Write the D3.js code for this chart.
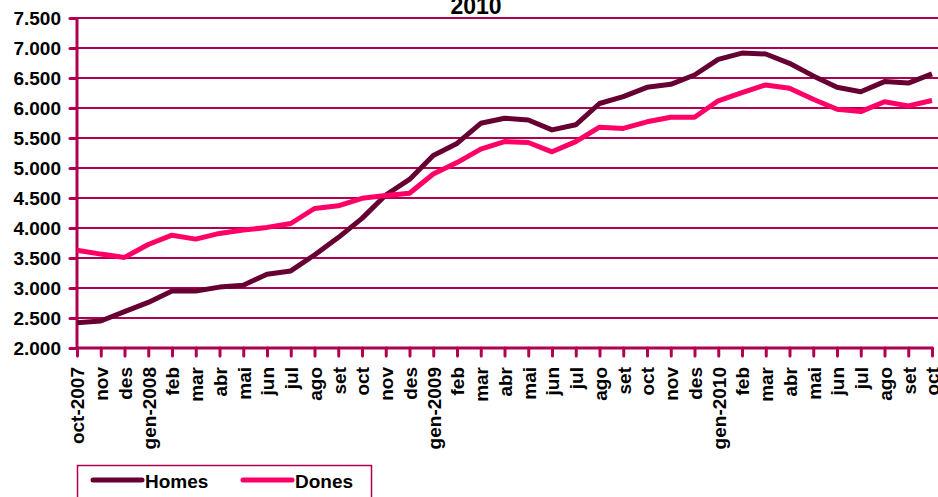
<!DOCTYPE html>
<html>
<head>
<meta charset="utf-8">
<script src="https://cdn.jsdelivr.net/npm/d3@7"></script>
<style>
   body { margin: 0; background: #fff; }
   svg { display: block; font-family: Arial, "Liberation Sans", sans-serif; font-weight: bold; }
</style>
</head>
<body>
<svg class="chart" width="938" height="497"></svg>
<script>
var months = ['oct-2007', 'nov', 'des', 'gen-2008', 'feb', 'mar', 'abr', 'mai', 'jun', 'jul', 'ago', 'set', 'oct', 'nov', 'des',
   'gen-2009', 'feb', 'mar', 'abr', 'mai', 'jun', 'jul', 'ago', 'set', 'oct', 'nov', 'des',
   'gen-2010', 'feb', 'mar', 'abr', 'mai', 'jun', 'jul', 'ago', 'set', 'oct'];

var homes = [2420, 2450, 2605, 2760, 2950, 2950, 3015, 3045, 3230, 3285, 3550, 3840, 4160, 4550, 4810,
   5210, 5410, 5745, 5830, 5800, 5635, 5720, 6075, 6190, 6345, 6395, 6550,
   6810, 6915, 6900, 6745, 6535, 6345, 6270, 6440, 6415, 6570];

var dones = [3630, 3565, 3510, 3725, 3880, 3815, 3910, 3965, 4010, 4075, 4325, 4370, 4495, 4540, 4580,
   4900, 5090, 5315, 5440, 5425, 5270, 5440, 5680, 5660, 5770, 5845, 5845,
   6120, 6255, 6385, 6330, 6145, 5980, 5940, 6105, 6035, 6125];

var yTicks = [2000, 2500, 3000, 3500, 4000, 4500, 5000, 5500, 6000, 6500, 7000, 7500];

var series = [
   {name: 'Homes', values: homes, color: '#660033'},
   {name: 'Dones', values: dones, color: '#FF0066'}
];

(function drawChart() {
   var svg = d3.select('svg.chart');
   var axisColor = '#B0004F';

   var bounds = {left: 77, right: 932, top: 18, bottom: 348};

   var x = d3.scalePoint()
      .domain(d3.range(months.length))
      .range([bounds.left, bounds.right]);

   var y = d3.scaleLinear()
      .domain([2000, 7500])
      .range([bounds.bottom, bounds.top]);

   var fmt = function (v) {
      return d3.format(',')(v).replace(/,/g, '.');
   };

   // gridlines
   svg.append('g')
      .selectAll('line')
      .data(yTicks.slice(1))
      .enter().append('line')
      .attr('x1', bounds.left)
      .attr('x2', 938)
      .attr('y1', function (d) { return y(d); })
      .attr('y2', function (d) { return y(d); })
      .attr('stroke', axisColor)
      .attr('stroke-width', 2);

   // left axis
   var yAxis = svg.append('g')
      .attr('transform', 'translate(' + bounds.left + ',0)')
      .call(d3.axisLeft(y).tickValues(yTicks).tickSize(7).tickPadding(9).tickFormat(fmt));
   yAxis.select('.domain').remove();
   yAxis.selectAll('.tick line')
      .attr('stroke', axisColor)
      .attr('stroke-width', 3)
      .attr('stroke-linecap', 'round');
   yAxis.selectAll('.tick text')
      .attr('fill', '#000')
      .attr('dy', '0.36em')
      .style('font-size', '19px')
      .style('font-weight', 'bold');

   // bottom axis
   var xAxis = svg.append('g')
      .attr('transform', 'translate(0,' + bounds.bottom + ')')
      .call(d3.axisBottom(x).tickSize(8).tickFormat(function (i) { return months[i]; }));
   xAxis.select('.domain').remove();
   xAxis.selectAll('.tick line')
      .attr('stroke', axisColor)
      .attr('stroke-width', 3)
      .attr('stroke-linecap', 'round');
   xAxis.selectAll('.tick text')
      .attr('fill', '#000')
      .attr('transform', 'rotate(-90)')
      .attr('x', -19)
      .attr('y', 0)
      .attr('dy', '0.36em')
      .attr('text-anchor', 'end')
      .style('font-size', '19px')
      .style('font-weight', 'bold');

   // axis lines
   svg.append('line')
      .attr('x1', bounds.left).attr('x2', bounds.left)
      .attr('y1', bounds.top).attr('y2', bounds.bottom)
      .attr('stroke', axisColor).attr('stroke-width', 3);
   svg.append('line')
      .attr('x1', bounds.left).attr('x2', bounds.right)
      .attr('y1', bounds.bottom).attr('y2', bounds.bottom)
      .attr('stroke', axisColor).attr('stroke-width', 3)
      .attr('stroke-linecap', 'round');

   // series lines
   var line = d3.line()
      .x(function (d, i) { return x(i); })
      .y(function (d) { return y(d); });

   svg.append('g')
      .selectAll('path')
      .data(series)
      .enter().append('path')
      .attr('d', function (s) { return line(s.values); })
      .attr('fill', 'none')
      .attr('stroke', function (s) { return s.color; })
      .attr('stroke-width', 5)
      .attr('stroke-linejoin', 'round');

   // title (only its last line shows in the frame)
   svg.append('text')
      .attr('x', 476)
      .attr('y', 14)
      .attr('text-anchor', 'middle')
      .style('font-size', '23px')
      .text('2010');

   // legend
   var legend = svg.append('g');
   legend.append('rect')
      .attr('x', 77.5)
      .attr('y', 465.5)
      .attr('width', 294)
      .attr('height', 40)
      .attr('fill', '#fff')
      .attr('stroke', axisColor)
      .attr('stroke-width', 1.5);

   var item = legend.selectAll('.legendItem')
      .data(series)
      .enter().append('g')
      .attr('class', 'legendItem')
      .attr('transform', function (d, i) { return 'translate(' + (93 + i * 150) + ',480)'; });

   item.append('line')
      .attr('x1', 0).attr('x2', 49)
      .attr('stroke', function (d) { return d.color; })
      .attr('stroke-width', 5)
      .attr('stroke-linecap', 'round');

   item.append('text')
      .attr('x', 52)
      .attr('y', 8)
      .style('font-size', '19px')
      .text(function (d) { return d.name; });
})();
</script>
</body>
</html>
